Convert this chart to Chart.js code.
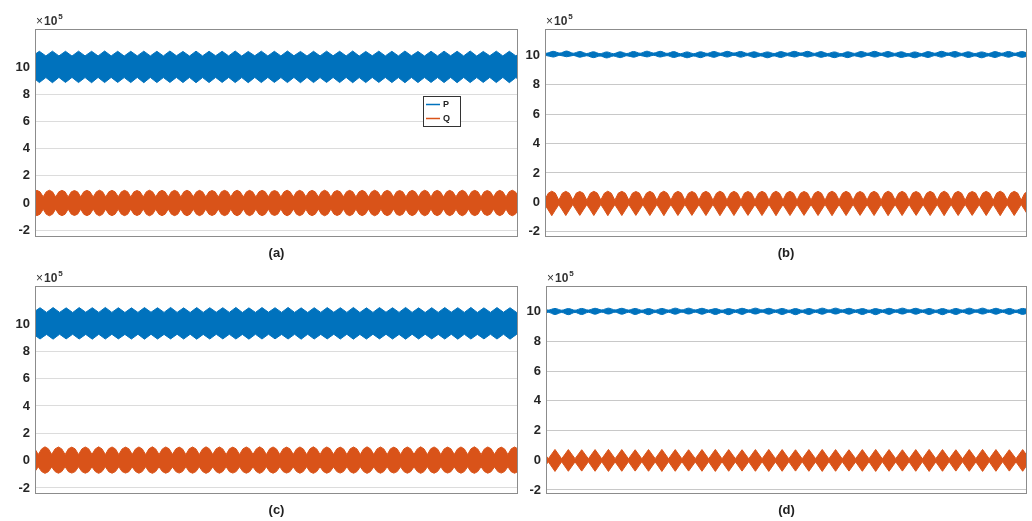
<!DOCTYPE html>
<html><head><meta charset="utf-8">
<script src="https://cdn.jsdelivr.net/npm/chart.js@4"></script>
<style>
html,body{margin:0;padding:0;background:#fff}
body{width:1032px;height:521px;overflow:hidden;position:relative;font-family:'Liberation Sans',Arial,sans-serif}
.cell{position:absolute}
</style></head><body>
<div class="cell" style="left:0;top:0;width:520px;height:262px"><canvas id="ca"></canvas></div>
<div class="cell" style="left:520px;top:0;width:512px;height:262px"><canvas id="cb"></canvas></div>
<div class="cell" style="left:0;top:262px;width:520px;height:259px"><canvas id="cc"></canvas></div>
<div class="cell" style="left:520px;top:262px;width:512px;height:259px"><canvas id="cd"></canvas></div>
<script>
// ---- data (values in units of 10^5; envelope of each oscillating signal, read along the time axis) ----
const panelLabels = ['(a)', '(b)', '(c)', '(d)'];
const seriesNames = ['P', 'Q'];
const yTickValues = [-2, 0, 2, 4, 6, 8, 10];
const yExponent = 5;

// panel (a): P envelope every half bump (neck, peak, ...); Q envelope every quarter lobe (neck, shoulder, peak, shoulder, ...)
const aP_start = -0.0045, aP_step = 0.013515;
const aP_hi = [10.83,11.16,10.82,11.17,10.82,11.16,10.81,11.17,10.82,11.16,10.82,11.18,10.82,11.16,10.81,11.16,10.82,11.17,10.82,11.16,10.82,11.18,10.83,11.15,10.81,11.17,10.82,11.16,10.83,11.16,10.82,11.18,10.81,11.15,10.83,11.17,10.82,11.16,10.82,11.18,10.83,11.15,10.81,11.16,10.82,11.17,10.83,11.16,10.82,11.18,10.81,11.15,10.83,11.17,10.82,11.16,10.82,11.18,10.83,11.15,10.81,11.16,10.82,11.17,10.83,11.16,10.82,11.18,10.81,11.15,10.83,11.17,10.82,11.16,10.82,11.18];
const aP_lo = [9.24,8.86,9.23,8.85,9.24,8.87,9.24,8.86,9.23,8.85,9.24,8.86,9.24,8.87,9.23,8.86,9.24,8.85,9.24,8.86,9.23,8.87,9.24,8.86,9.24,8.85,9.23,8.86,9.24,8.87,9.24,8.86,9.23,8.85,9.24,8.86,9.24,8.87,9.23,8.86,9.24,8.85,9.24,8.86,9.23,8.87,9.24,8.86,9.24,8.85,9.23,8.86,9.24,8.87,9.24,8.86,9.23,8.85,9.24,8.86,9.24,8.87,9.23,8.86,9.24,8.85,9.24,8.86,9.23,8.87,9.24,8.86,9.24,8.85,9.23,8.86];
const aQ_start = -0.009, aQ_step = 0.006475;
const aQ_hi = [
0.45,0.82,0.93,0.82, 0.46,0.83,0.94,0.82, 0.45,0.82,0.93,0.83, 0.45,0.82,0.92,0.82, 0.46,0.83,0.93,0.82,
0.45,0.82,0.94,0.83, 0.45,0.82,0.93,0.82, 0.46,0.82,0.93,0.83, 0.45,0.82,0.92,0.82, 0.45,0.83,0.94,0.82,
0.46,0.82,0.93,0.82, 0.45,0.82,0.93,0.83, 0.45,0.83,0.94,0.82, 0.46,0.82,0.93,0.82, 0.45,0.82,0.92,0.82,
0.45,0.83,0.93,0.83, 0.46,0.82,0.94,0.82, 0.45,0.82,0.93,0.82, 0.45,0.82,0.93,0.83, 0.46,0.83,0.92,0.82,
0.45,0.82,0.94,0.82, 0.45,0.82,0.93,0.83, 0.46,0.83,0.93,0.82, 0.45,0.82,0.94,0.82, 0.45,0.82,0.92,0.82,
0.46,0.83,0.93,0.83, 0.45,0.82,0.93,0.82, 0.45,0.82,0.94,0.82, 0.46,0.82,0.93,0.83, 0.45,0.83,0.92,0.82,
0.45,0.82,0.93,0.82, 0.46,0.82,0.94,0.83, 0.45,0.83,0.93,0.82, 0.45,0.82,0.93,0.82, 0.46,0.82,0.94,0.82,
0.45,0.83,0.93,0.83, 0.45,0.82,0.92,0.82, 0.46,0.82,0.93,0.82, 0.45,0.83,0.94,0.82, 0.45];
const aQ_lo = [
-0.45,-0.82,-0.93,-0.82, -0.46,-0.83,-0.94,-0.82, -0.45,-0.82,-0.93,-0.83, -0.45,-0.82,-0.92,-0.82, -0.46,-0.83,-0.93,-0.82,
-0.45,-0.82,-0.94,-0.83, -0.45,-0.82,-0.93,-0.82, -0.46,-0.82,-0.93,-0.83, -0.45,-0.82,-0.92,-0.82, -0.45,-0.83,-0.94,-0.82,
-0.46,-0.82,-0.93,-0.82, -0.45,-0.82,-0.93,-0.83, -0.45,-0.83,-0.94,-0.82, -0.46,-0.82,-0.93,-0.82, -0.45,-0.82,-0.92,-0.82,
-0.45,-0.83,-0.93,-0.83, -0.46,-0.82,-0.94,-0.82, -0.45,-0.82,-0.93,-0.82, -0.45,-0.82,-0.93,-0.83, -0.46,-0.83,-0.92,-0.82,
-0.45,-0.82,-0.94,-0.82, -0.45,-0.82,-0.93,-0.83, -0.46,-0.83,-0.93,-0.82, -0.45,-0.82,-0.94,-0.82, -0.45,-0.82,-0.92,-0.82,
-0.46,-0.83,-0.93,-0.83, -0.45,-0.82,-0.93,-0.82, -0.45,-0.82,-0.94,-0.82, -0.46,-0.82,-0.93,-0.83, -0.45,-0.83,-0.92,-0.82,
-0.45,-0.82,-0.93,-0.82, -0.46,-0.82,-0.94,-0.83, -0.45,-0.83,-0.93,-0.82, -0.45,-0.82,-0.93,-0.82, -0.46,-0.82,-0.94,-0.82,
-0.45,-0.83,-0.93,-0.83, -0.45,-0.82,-0.92,-0.82, -0.46,-0.82,-0.93,-0.82, -0.45,-0.83,-0.94,-0.82, -0.45];

// panel (b): P beads every half period (bead, neck, ...); Q lobes every quarter (peak, shoulder, neck, shoulder, ...)
const bP_start = -0.0108, bP_step = 0.01389;
const bP_hi = [10.27,10.15,10.28,10.16,10.30,10.15,10.27,10.13,10.25,10.12,10.24,10.12,10.25,10.13,10.27,10.15,10.29,10.16,10.28,10.14,10.26,10.12,10.24,10.12,10.25,10.14,10.27,10.15,10.28,10.16,10.27,10.14,10.25,10.13,10.24,10.13,10.26,10.15,10.28,10.16,10.28,10.14,10.26,10.13,10.24,10.12,10.25,10.14,10.27,10.15,10.28,10.15,10.27,10.14,10.25,10.12,10.24,10.13,10.26,10.15,10.28,10.16,10.27,10.14,10.25,10.13,10.24,10.13,10.26,10.15,10.27,10.15,10.26,10.14];
const bP_lo = [9.87,9.99,9.89,10.01,9.91,10.00,9.88,9.98,9.85,9.96,9.83,9.96,9.85,9.98,9.88,10.00,9.90,10.01,9.89,9.99,9.86,9.97,9.84,9.96,9.85,9.98,9.87,10.00,9.89,10.01,9.88,9.99,9.86,9.97,9.84,9.97,9.86,9.99,9.89,10.01,9.89,9.99,9.87,9.97,9.85,9.96,9.85,9.98,9.88,10.00,9.89,10.00,9.88,9.98,9.86,9.96,9.84,9.97,9.86,9.99,9.88,10.01,9.88,9.99,9.86,9.97,9.84,9.97,9.86,9.99,9.88,10.00,9.87,9.98];
const bQ_start = -0.015, bQ_step = 0.007268;
const bQ_hi = [
0.75,0.63,0.16,0.62, 0.76,0.63,0.15,0.62, 0.75,0.62,0.16,0.63, 0.74,0.62,0.15,0.62, 0.75,0.63,0.16,0.62,
0.76,0.62,0.15,0.63, 0.75,0.62,0.15,0.62, 0.74,0.63,0.16,0.62, 0.75,0.62,0.15,0.63, 0.76,0.62,0.16,0.62,
0.75,0.63,0.15,0.62, 0.74,0.62,0.16,0.63, 0.75,0.62,0.15,0.62, 0.76,0.63,0.16,0.62, 0.75,0.62,0.15,0.63,
0.74,0.62,0.16,0.62, 0.75,0.63,0.15,0.62, 0.76,0.62,0.16,0.63, 0.75,0.62,0.15,0.62, 0.74,0.63,0.16,0.62,
0.75,0.62,0.15,0.63, 0.76,0.62,0.16,0.62, 0.75,0.63,0.15,0.62, 0.74,0.62,0.16,0.63, 0.75,0.62,0.15,0.62,
0.76,0.63,0.16,0.62, 0.75,0.62,0.15,0.63, 0.74,0.62,0.16,0.62, 0.75,0.63,0.15,0.62, 0.76,0.62,0.16,0.63,
0.75,0.62,0.15,0.62, 0.74,0.63,0.16,0.62, 0.75,0.62,0.15,0.63, 0.76,0.62,0.16,0.62, 0.75,0.63,0.15,0.62, 0.75];
const bQ_lo = [
-0.90,-0.53,-0.15,-0.52, -0.91,-0.53,-0.16,-0.52, -0.90,-0.52,-0.15,-0.53, -0.89,-0.52,-0.16,-0.52, -0.90,-0.53,-0.15,-0.52,
-0.91,-0.52,-0.16,-0.53, -0.90,-0.52,-0.15,-0.52, -0.89,-0.53,-0.16,-0.52, -0.90,-0.52,-0.15,-0.53, -0.91,-0.52,-0.16,-0.52,
-0.90,-0.53,-0.15,-0.52, -0.89,-0.52,-0.16,-0.53, -0.90,-0.52,-0.15,-0.52, -0.91,-0.53,-0.16,-0.52, -0.90,-0.52,-0.15,-0.53,
-0.89,-0.52,-0.16,-0.52, -0.90,-0.53,-0.15,-0.52, -0.91,-0.52,-0.16,-0.53, -0.90,-0.52,-0.15,-0.52, -0.89,-0.53,-0.16,-0.52,
-0.90,-0.52,-0.15,-0.53, -0.91,-0.52,-0.16,-0.52, -0.90,-0.53,-0.15,-0.52, -0.89,-0.52,-0.16,-0.53, -0.90,-0.52,-0.15,-0.52,
-0.91,-0.53,-0.16,-0.52, -0.90,-0.52,-0.15,-0.53, -0.89,-0.52,-0.16,-0.52, -0.90,-0.53,-0.15,-0.52, -0.91,-0.52,-0.16,-0.53,
-0.90,-0.52,-0.15,-0.52, -0.89,-0.53,-0.16,-0.52, -0.90,-0.52,-0.15,-0.53, -0.91,-0.52,-0.16,-0.52, -0.90,-0.53,-0.15,-0.52, -0.90];

// panel (c)
const cP_start = -0.0031, cP_step = 0.013515;
const cP_hi = [10.86,11.19,10.85,11.20,10.85,11.18,10.84,11.20,10.86,11.19,10.85,11.21,10.85,11.19,10.84,11.18,10.85,11.20,10.86,11.19,10.85,11.21,10.85,11.18,10.84,11.20,10.85,11.19,10.86,11.19,10.85,11.21,10.84,11.18,10.85,11.20,10.86,11.19,10.85,11.21,10.85,11.18,10.84,11.19,10.85,11.20,10.86,11.19,10.85,11.21,10.84,11.18,10.85,11.20,10.86,11.19,10.85,11.21,10.85,11.18,10.84,11.19,10.85,11.20,10.86,11.19,10.85,11.21,10.84,11.18,10.85,11.20,10.86,11.19,10.85,11.21];
const cP_lo = [9.25,8.90,9.24,8.89,9.25,8.91,9.25,8.90,9.24,8.89,9.25,8.90,9.25,8.91,9.24,8.90,9.25,8.89,9.25,8.90,9.24,8.91,9.25,8.90,9.25,8.89,9.24,8.90,9.25,8.91,9.25,8.90,9.24,8.89,9.25,8.90,9.25,8.91,9.24,8.90,9.25,8.89,9.25,8.90,9.24,8.91,9.25,8.90,9.25,8.89,9.24,8.90,9.25,8.91,9.25,8.90,9.24,8.89,9.25,8.90,9.25,8.91,9.24,8.90,9.25,8.89,9.25,8.90,9.24,8.91,9.25,8.90,9.25,8.89,9.24,8.90];
const cQ_start = -0.0071, cQ_step = 0.006945;
const cQ_hi = [
1.00,0.86,0.45,0.86, 1.01,0.87,0.46,0.86, 1.00,0.86,0.45,0.87, 0.99,0.86,0.45,0.86, 1.00,0.87,0.46,0.86,
1.01,0.86,0.45,0.87, 1.00,0.86,0.45,0.86, 0.99,0.87,0.46,0.86, 1.00,0.86,0.45,0.87, 1.01,0.86,0.45,0.86,
1.00,0.87,0.46,0.86, 0.99,0.86,0.45,0.87, 1.00,0.86,0.45,0.86, 1.01,0.87,0.46,0.86, 1.00,0.86,0.45,0.87,
0.99,0.86,0.45,0.86, 1.00,0.87,0.46,0.86, 1.01,0.86,0.45,0.87, 1.00,0.86,0.45,0.86, 0.99,0.87,0.46,0.86,
1.00,0.86,0.45,0.87, 1.01,0.86,0.45,0.86, 1.00,0.87,0.46,0.86, 0.99,0.86,0.45,0.87, 1.00,0.86,0.45,0.86,
1.01,0.87,0.46,0.86, 1.00,0.86,0.45,0.87, 0.99,0.86,0.45,0.86, 1.00,0.87,0.46,0.86, 1.01,0.86,0.45,0.87,
1.00,0.86,0.45,0.86, 0.99,0.87,0.46,0.86, 1.00,0.86,0.45,0.87, 1.01,0.86,0.45,0.86, 1.00,0.87,0.46,0.86,
0.99,0.86,0.45,0.87, 1.00,0.86];
const cQ_lo = [
-0.92,-0.80,-0.45,-0.80, -0.93,-0.81,-0.46,-0.80, -0.92,-0.80,-0.45,-0.81, -0.91,-0.80,-0.45,-0.80, -0.92,-0.81,-0.46,-0.80,
-0.93,-0.80,-0.45,-0.81, -0.92,-0.80,-0.45,-0.80, -0.91,-0.81,-0.46,-0.80, -0.92,-0.80,-0.45,-0.81, -0.93,-0.80,-0.45,-0.80,
-0.92,-0.81,-0.46,-0.80, -0.91,-0.80,-0.45,-0.81, -0.92,-0.80,-0.45,-0.80, -0.93,-0.81,-0.46,-0.80, -0.92,-0.80,-0.45,-0.81,
-0.91,-0.80,-0.45,-0.80, -0.92,-0.81,-0.46,-0.80, -0.93,-0.80,-0.45,-0.81, -0.92,-0.80,-0.45,-0.80, -0.91,-0.81,-0.46,-0.80,
-0.92,-0.80,-0.45,-0.81, -0.93,-0.80,-0.45,-0.80, -0.92,-0.81,-0.46,-0.80, -0.91,-0.80,-0.45,-0.81, -0.92,-0.80,-0.45,-0.80,
-0.93,-0.81,-0.46,-0.80, -0.92,-0.80,-0.45,-0.81, -0.91,-0.80,-0.45,-0.80, -0.92,-0.81,-0.46,-0.80, -0.93,-0.80,-0.45,-0.81,
-0.92,-0.80,-0.45,-0.80, -0.91,-0.81,-0.46,-0.80, -0.92,-0.80,-0.45,-0.81, -0.93,-0.80,-0.45,-0.80, -0.92,-0.81,-0.46,-0.80,
-0.91,-0.80,-0.45,-0.81, -0.92,-0.80];

// panel (d): P beads and Q diamonds every half period
const dP_start = -0.0091, dP_step = 0.01389;
const dP_hi = [10.23,10.11,10.22,10.10,10.21,10.10,10.22,10.11,10.23,10.12,10.24,10.12,10.23,10.11,10.22,10.10,10.21,10.10,10.22,10.11,10.24,10.12,10.24,10.12,10.23,10.11,10.21,10.10,10.21,10.11,10.23,10.12,10.24,10.12,10.23,10.11,10.22,10.10,10.21,10.10,10.22,10.11,10.24,10.12,10.24,10.12,10.23,10.11,10.21,10.10,10.21,10.11,10.23,10.12,10.24,10.12,10.23,10.11,10.22,10.10,10.21,10.10,10.22,10.11,10.24,10.12,10.24,10.11,10.23,10.11,10.22,10.10,10.22,10.11];
const dP_lo = [9.82,9.96,9.81,9.95,9.80,9.95,9.81,9.96,9.83,9.97,9.84,9.97,9.83,9.96,9.81,9.95,9.80,9.95,9.81,9.96,9.83,9.97,9.84,9.97,9.83,9.96,9.81,9.95,9.80,9.96,9.82,9.97,9.84,9.97,9.83,9.96,9.81,9.95,9.80,9.95,9.81,9.96,9.83,9.97,9.84,9.97,9.83,9.96,9.81,9.95,9.80,9.96,9.82,9.97,9.84,9.97,9.83,9.96,9.81,9.95,9.80,9.95,9.81,9.96,9.83,9.97,9.84,9.96,9.83,9.96,9.82,9.95,9.82,9.96];
const dQ_start = -0.0091, dQ_step = 0.01389;
const dQ_hi = [0.72,0.10,0.73,0.10,0.72,0.11,0.71,0.10,0.72,0.10,0.73,0.11,0.72,0.10,0.71,0.10,0.72,0.11,0.73,0.10,0.72,0.10,0.71,0.11,0.72,0.10,0.73,0.10,0.72,0.11,0.71,0.10,0.72,0.10,0.73,0.11,0.72,0.10,0.71,0.10,0.72,0.11,0.73,0.10,0.72,0.10,0.71,0.11,0.72,0.10,0.73,0.10,0.72,0.11,0.71,0.10,0.72,0.10,0.73,0.11,0.72,0.10,0.71,0.10,0.72,0.11,0.73,0.10,0.72,0.10,0.71,0.11,0.72,0.10];
const dQ_lo = [-0.74,-0.10,-0.75,-0.10,-0.74,-0.11,-0.73,-0.10,-0.74,-0.10,-0.75,-0.11,-0.74,-0.10,-0.73,-0.10,-0.74,-0.11,-0.75,-0.10,-0.74,-0.10,-0.73,-0.11,-0.74,-0.10,-0.75,-0.10,-0.74,-0.11,-0.73,-0.10,-0.74,-0.10,-0.75,-0.11,-0.74,-0.10,-0.73,-0.10,-0.74,-0.11,-0.75,-0.10,-0.74,-0.10,-0.73,-0.11,-0.74,-0.10,-0.75,-0.10,-0.74,-0.11,-0.73,-0.10,-0.74,-0.10,-0.75,-0.11,-0.74,-0.10,-0.73,-0.10,-0.74,-0.11,-0.75,-0.10,-0.74,-0.10,-0.73,-0.11,-0.74,-0.10];

// y-axis limits of each panel (units of 10^5)
const yLimits = [[-2.5, 12.8], [-2.36, 11.8], [-2.44, 12.78], [-2.27, 11.73]];

// ---- styling / layout ----
const BLUE = 'rgb(0,114,189)', ORANGE = 'rgb(217,83,25)';
const FONT = "'Liberation Sans', Arial, sans-serif";

function env(vals, start, step) {
  return vals.map((v, k) => ({ x: start + k * step, y: v }));
}

const panels = [
  { id: 'ca', P: [aP_hi, aP_lo, aP_start, aP_step], Q: [aQ_hi, aQ_lo, aQ_start, aQ_step],
    pad: { top: 29, right: 2, left: 0, bottom: 0 }, yw: 35, xh: 25, titlePad: 1, legend: true, grid: '#dcdcdc', qCurve: 'linear', pCurve: 'linear' },
  { id: 'cb', P: [bP_hi, bP_lo, bP_start, bP_step], Q: [bQ_hi, bQ_lo, bQ_start, bQ_step],
    pad: { top: 29, right: 5, left: 0, bottom: 0 }, yw: 25, xh: 25, titlePad: 1, legend: false, grid: '#c8c8c8', qCurve: 'linear', pCurve: 'monotone' },
  { id: 'cc', P: [cP_hi, cP_lo, cP_start, cP_step], Q: [cQ_hi, cQ_lo, cQ_start, cQ_step],
    pad: { top: 24, right: 2, left: 0, bottom: 0 }, yw: 35, xh: 27, titlePad: 3, legend: false, grid: '#dcdcdc', qCurve: 'linear', pCurve: 'linear' },
  { id: 'cd', P: [dP_hi, dP_lo, dP_start, dP_step], Q: [dQ_hi, dQ_lo, dQ_start, dQ_step],
    pad: { top: 24, right: 5, left: 0, bottom: 0 }, yw: 26, xh: 27, titlePad: 3, legend: false, grid: '#c8c8c8', qCurve: 'linear', pCurve: 'monotone' }
];

const framePlugin = {
  id: 'frame',
  afterDatasetsDraw(chart, args, opts) {
    const { ctx, chartArea: a } = chart;
    ctx.save();
    ctx.strokeStyle = '#8c8c8c';
    ctx.lineWidth = 1;
    ctx.strokeRect(Math.round(a.left) + 0.5, Math.round(a.top) + 0.5, Math.round(a.right - a.left) - 1, Math.round(a.bottom - a.top) - 1);
    // exponent label of the y axis
    ctx.fillStyle = '#333';
    ctx.textBaseline = 'alphabetic';
    ctx.textAlign = 'left';
    ctx.font = '12px ' + FONT;
    const x0 = a.left + 1, y0 = a.top - 4;
    ctx.fillText('\u00d7', x0, y0);
    let w = ctx.measureText('\u00d7').width;
    ctx.font = 'bold 12px ' + FONT;
    ctx.fillText('10', x0 + w + 1, y0);
    w += ctx.measureText('10').width + 1;
    ctx.font = 'bold 8px ' + FONT;
    ctx.fillText(String(yExponent), x0 + w + 1, y0 - 6);
    // in-axes legend
    if (opts.legend) {
      const lx = a.left + 388, ly = a.top + 67, lw = 37, lh = 30;
      ctx.fillStyle = '#fff';
      ctx.fillRect(lx, ly, lw, lh);
      ctx.strokeStyle = '#333';
      ctx.strokeRect(lx + 0.5, ly + 0.5, lw, lh);
      const cols = [BLUE, ORANGE];
      seriesNames.forEach((n, i) => {
        const yy = ly + 8 + i * 14;
        ctx.strokeStyle = cols[i];
        ctx.lineWidth = 1.5;
        ctx.beginPath(); ctx.moveTo(lx + 3, yy + 0.5); ctx.lineTo(lx + 17, yy + 0.5); ctx.stroke();
        ctx.fillStyle = '#222';
        ctx.font = 'bold 9px ' + FONT;
        ctx.textBaseline = 'middle';
        ctx.fillText(n, lx + 20, yy + 1);
      });
    }
    ctx.restore();
  }
};

panels.forEach((p, i) => {
  const mk = (arr, color, curve, name) => [
    { label: name, data: env(arr[0], arr[2], arr[3]), borderColor: color, backgroundColor: color, borderWidth: 1,
      pointRadius: 0, fill: false, cubicInterpolationMode: curve === 'monotone' ? 'monotone' : 'default', tension: curve === 'monotone' ? 0.4 : 0 },
    { label: name + ' ', data: env(arr[1], arr[2], arr[3]), borderColor: color, backgroundColor: color, borderWidth: 1,
      pointRadius: 0, fill: '-1', cubicInterpolationMode: curve === 'monotone' ? 'monotone' : 'default', tension: curve === 'monotone' ? 0.4 : 0 }
  ];
  new Chart(document.getElementById(p.id), {
    type: 'line',
    data: { datasets: [...mk(p.P, BLUE, p.pCurve, 'P'), ...mk(p.Q, ORANGE, p.qCurve, 'Q')] },
    options: {
      responsive: true, maintainAspectRatio: false, animation: false,
      layout: { padding: p.pad },
      plugins: { legend: { display: false }, tooltip: { enabled: false }, frame: { legend: p.legend } },
      scales: {
        x: {
          type: 'linear', min: 0, max: 1,
          ticks: { display: false },
          grid: { display: false, drawTicks: false },
          border: { display: false },
          title: { display: true, text: panelLabels[i], color: '#222', font: { family: FONT, size: 13, weight: 'bold' }, padding: { top: 0, bottom: p.titlePad } },
          afterFit(s) { s.height = p.xh; }
        },
        y: {
          type: 'linear', min: yLimits[i][0], max: yLimits[i][1],
          afterBuildTicks(s) { s.ticks = yTickValues.map(v => ({ value: v })); },
          ticks: { includeBounds: false, color: '#262626', padding: 5, font: { family: FONT, size: 13, weight: 'bold' } },
          grid: { color: p.grid, drawTicks: false, lineWidth: 1 },
          border: { display: false },
          afterFit(s) { s.width = p.yw; }
        }
      }
    },
    plugins: [framePlugin]
  });
});
</script>
</body></html>
